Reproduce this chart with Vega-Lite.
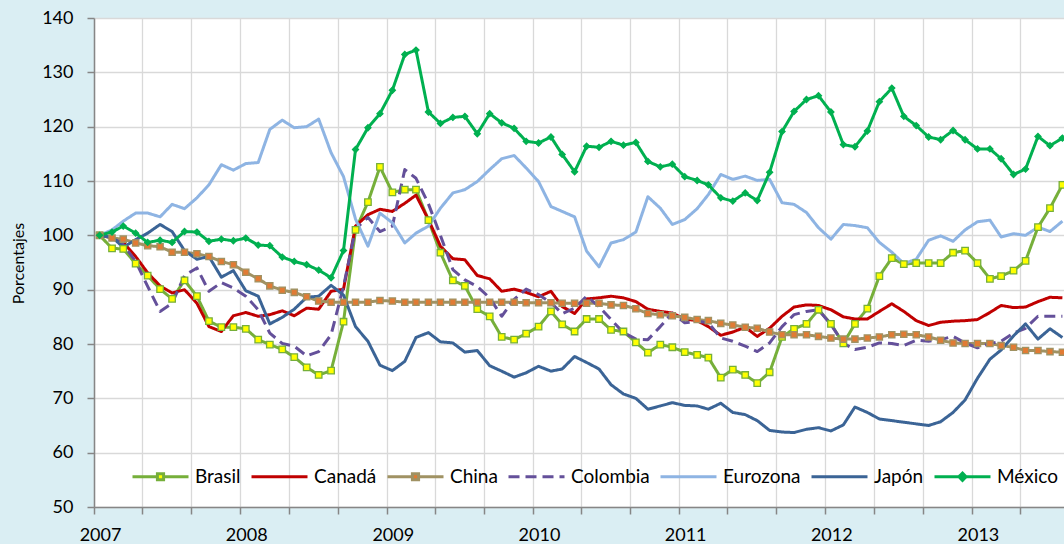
{
  "$schema": "https://vega.github.io/schema/vega-lite/v6.json",
  "width": 970,
  "height": 489,
  "autosize": {"type": "none"},
  "padding": {"left": 94, "top": 18, "right": 0, "bottom": 37},
  "background": "#DAEEF3",
  "config": {
    "font": "Lato",
    "view": {"fill": "white", "stroke": null},
    "axis": {
      "labelFont": "Lato",
      "labelColor": "#000000",
      "domainColor": "#868686",
      "domainWidth": 1.5,
      "tickColor": "#868686",
      "tickWidth": 1.5,
      "gridColor": "#D9D9D9",
      "gridWidth": 1.3
    }
  },
  "data": {
    "values": [
      {"fecha": "2007-01-15", "Brasil": 100, "Canadá": 100, "China": 100, "Colombia": 100, "Eurozona": 100, "Japón": 100, "México": 100},
      {"fecha": "2007-02-15", "Brasil": 97.6, "Canadá": 99.6, "China": 99.5, "Colombia": 99.6, "Eurozona": 101.0, "Japón": 99.7, "México": 100.6},
      {"fecha": "2007-03-15", "Brasil": 97.5, "Canadá": 98.7, "China": 99.3, "Colombia": 98.3, "Eurozona": 102.6, "Japón": 97.8, "México": 101.7},
      {"fecha": "2007-04-15", "Brasil": 94.8, "Canadá": 96.1, "China": 98.6, "Colombia": 95.2, "Eurozona": 104.1, "Japón": 99.2, "México": 100.4},
      {"fecha": "2007-05-15", "Brasil": 92.6, "Canadá": 93.1, "China": 98.1, "Colombia": 90.6, "Eurozona": 104.1, "Japón": 100.4, "México": 98.7},
      {"fecha": "2007-06-15", "Brasil": 90.1, "Canadá": 90.7, "China": 97.9, "Colombia": 86.0, "Eurozona": 103.4, "Japón": 102.0, "México": 99.1},
      {"fecha": "2007-07-15", "Brasil": 88.3, "Canadá": 89.4, "China": 96.9, "Colombia": 87.5, "Eurozona": 105.7, "Japón": 100.7, "México": 98.7},
      {"fecha": "2007-08-15", "Brasil": 91.7, "Canadá": 90.0, "China": 96.9, "Colombia": 92.6, "Eurozona": 104.9, "Japón": 97.2, "México": 100.7},
      {"fecha": "2007-09-15", "Brasil": 88.8, "Canadá": 87.5, "China": 96.6, "Colombia": 94.0, "Eurozona": 106.9, "Japón": 95.6, "México": 100.6},
      {"fecha": "2007-10-15", "Brasil": 84.2, "Canadá": 83.2, "China": 96.1, "Colombia": 89.7, "Eurozona": 109.3, "Japón": 96.1, "México": 98.9},
      {"fecha": "2007-11-15", "Brasil": 83.1, "Canadá": 82.3, "China": 95.2, "Colombia": 91.3, "Eurozona": 113.0, "Japón": 92.3, "México": 99.3},
      {"fecha": "2007-12-15", "Brasil": 83.1, "Canadá": 85.2, "China": 94.6, "Colombia": 90.3, "Eurozona": 112.0, "Japón": 93.5, "México": 99.0},
      {"fecha": "2008-01-15", "Brasil": 82.8, "Canadá": 85.8, "China": 93.2, "Colombia": 88.8, "Eurozona": 113.2, "Japón": 89.8, "México": 99.5},
      {"fecha": "2008-02-15", "Brasil": 80.8, "Canadá": 85.1, "China": 92.0, "Colombia": 86.3, "Eurozona": 113.4, "Japón": 88.8, "México": 98.2},
      {"fecha": "2008-03-15", "Brasil": 79.9, "Canadá": 85.4, "China": 90.7, "Colombia": 82.0, "Eurozona": 119.5, "Japón": 83.7, "México": 98.1},
      {"fecha": "2008-04-15", "Brasil": 79.0, "Canadá": 86.1, "China": 89.9, "Colombia": 80.1, "Eurozona": 121.2, "Japón": 84.9, "México": 96.0},
      {"fecha": "2008-05-15", "Brasil": 77.6, "Canadá": 85.2, "China": 89.5, "Colombia": 79.6, "Eurozona": 119.8, "Japón": 86.4, "México": 95.2},
      {"fecha": "2008-06-15", "Brasil": 75.7, "Canadá": 86.6, "China": 88.7, "Colombia": 77.8, "Eurozona": 120.0, "Japón": 88.6, "México": 94.6},
      {"fecha": "2008-07-15", "Brasil": 74.3, "Canadá": 86.4, "China": 87.9, "Colombia": 78.6, "Eurozona": 121.4, "Japón": 88.8, "México": 93.6},
      {"fecha": "2008-08-15", "Brasil": 75.1, "Canadá": 89.7, "China": 87.7, "Colombia": 81.7, "Eurozona": 115.2, "Japón": 90.8, "México": 92.2},
      {"fecha": "2008-09-15", "Brasil": 84.1, "Canadá": 90.1, "China": 87.7, "Colombia": 90.6, "Eurozona": 110.8, "Japón": 89.0, "México": 97.2},
      {"fecha": "2008-10-15", "Brasil": 101.0, "Canadá": 101.7, "China": 87.7, "Colombia": 101.2, "Eurozona": 103.0, "Japón": 83.2, "México": 115.8},
      {"fecha": "2008-11-15", "Brasil": 106.1, "Canadá": 103.8, "China": 87.7, "Colombia": 103.3, "Eurozona": 98.0, "Japón": 80.5, "México": 119.8},
      {"fecha": "2008-12-15", "Brasil": 112.6, "Canadá": 104.8, "China": 88.0, "Colombia": 100.7, "Eurozona": 104.1, "Japón": 76.1, "México": 122.4},
      {"fecha": "2009-01-15", "Brasil": 107.9, "Canadá": 104.4, "China": 87.9, "Colombia": 101.7, "Eurozona": 102.3, "Japón": 75.1, "México": 126.7},
      {"fecha": "2009-02-15", "Brasil": 108.4, "Canadá": 105.9, "China": 87.7, "Colombia": 112.1, "Eurozona": 98.6, "Japón": 76.8, "México": 133.3},
      {"fecha": "2009-03-15", "Brasil": 108.4, "Canadá": 107.4, "China": 87.7, "Colombia": 110.5, "Eurozona": 100.4, "Japón": 81.2, "México": 134.1},
      {"fecha": "2009-04-15", "Brasil": 102.8, "Canadá": 102.9, "China": 87.7, "Colombia": 105.8, "Eurozona": 101.7, "Japón": 82.1, "México": 122.7},
      {"fecha": "2009-05-15", "Brasil": 96.8, "Canadá": 98.0, "China": 87.7, "Colombia": 100.0, "Eurozona": 105.0, "Japón": 80.4, "México": 120.6},
      {"fecha": "2009-06-15", "Brasil": 91.7, "Canadá": 95.7, "China": 87.7, "Colombia": 93.7, "Eurozona": 107.8, "Japón": 80.2, "México": 121.7},
      {"fecha": "2009-07-15", "Brasil": 90.7, "Canadá": 95.5, "China": 87.7, "Colombia": 91.8, "Eurozona": 108.4, "Japón": 78.5, "México": 121.9},
      {"fecha": "2009-08-15", "Brasil": 86.4, "Canadá": 92.6, "China": 87.7, "Colombia": 90.6, "Eurozona": 109.9, "Japón": 78.8, "México": 118.7},
      {"fecha": "2009-09-15", "Brasil": 85.1, "Canadá": 92.0, "China": 87.7, "Colombia": 88.5, "Eurozona": 112.1, "Japón": 76.0, "México": 122.4},
      {"fecha": "2009-10-15", "Brasil": 81.3, "Canadá": 89.7, "China": 87.7, "Colombia": 85.1, "Eurozona": 114.1, "Japón": 75.0, "México": 120.7},
      {"fecha": "2009-11-15", "Brasil": 80.8, "Canadá": 90.1, "China": 87.7, "Colombia": 88.2, "Eurozona": 114.7, "Japón": 73.9, "México": 119.7},
      {"fecha": "2009-12-15", "Brasil": 81.9, "Canadá": 89.5, "China": 87.6, "Colombia": 90.1, "Eurozona": 112.4, "Japón": 74.7, "México": 117.3},
      {"fecha": "2010-01-15", "Brasil": 83.2, "Canadá": 88.7, "China": 87.6, "Colombia": 89.1, "Eurozona": 109.9, "Japón": 75.9, "México": 117.0},
      {"fecha": "2010-02-15", "Brasil": 86.0, "Canadá": 89.7, "China": 87.6, "Colombia": 87.6, "Eurozona": 105.3, "Japón": 75.0, "México": 118.1},
      {"fecha": "2010-03-15", "Brasil": 83.6, "Canadá": 86.9, "China": 87.5, "Colombia": 85.6, "Eurozona": 104.4, "Japón": 75.4, "México": 114.9},
      {"fecha": "2010-04-15", "Brasil": 82.3, "Canadá": 85.6, "China": 87.5, "Colombia": 86.6, "Eurozona": 103.4, "Japón": 77.7, "México": 111.7},
      {"fecha": "2010-05-15", "Brasil": 84.6, "Canadá": 88.3, "China": 87.5, "Colombia": 88.8, "Eurozona": 97.1, "Japón": 76.6, "México": 116.4},
      {"fecha": "2010-06-15", "Brasil": 84.6, "Canadá": 88.5, "China": 87.5, "Colombia": 86.9, "Eurozona": 94.2, "Japón": 75.4, "México": 116.2},
      {"fecha": "2010-07-15", "Brasil": 82.6, "Canadá": 88.8, "China": 87.2, "Colombia": 84.5, "Eurozona": 98.6, "Japón": 72.5, "México": 117.3},
      {"fecha": "2010-08-15", "Brasil": 82.3, "Canadá": 88.5, "China": 87.1, "Colombia": 82.1, "Eurozona": 99.2, "Japón": 70.8, "México": 116.6},
      {"fecha": "2010-09-15", "Brasil": 80.3, "Canadá": 87.8, "China": 86.5, "Colombia": 80.9, "Eurozona": 100.6, "Japón": 70.0, "México": 117.1},
      {"fecha": "2010-10-15", "Brasil": 78.4, "Canadá": 86.4, "China": 85.6, "Colombia": 80.8, "Eurozona": 107.1, "Japón": 68.0, "México": 113.6},
      {"fecha": "2010-11-15", "Brasil": 79.9, "Canadá": 86.0, "China": 85.4, "Colombia": 83.2, "Eurozona": 105.0, "Japón": 68.6, "México": 112.6},
      {"fecha": "2010-12-15", "Brasil": 79.4, "Canadá": 85.7, "China": 85.2, "Colombia": 85.7, "Eurozona": 102.0, "Japón": 69.2, "México": 113.1},
      {"fecha": "2011-01-15", "Brasil": 78.5, "Canadá": 84.6, "China": 84.9, "Colombia": 83.9, "Eurozona": 102.9, "Japón": 68.7, "México": 110.8},
      {"fecha": "2011-02-15", "Brasil": 78.0, "Canadá": 84.3, "China": 84.5, "Colombia": 84.2, "Eurozona": 104.9, "Japón": 68.6, "México": 110.1},
      {"fecha": "2011-03-15", "Brasil": 77.5, "Canadá": 83.2, "China": 84.3, "Colombia": 83.9, "Eurozona": 107.5, "Japón": 68.0, "México": 109.3},
      {"fecha": "2011-04-15", "Brasil": 73.8, "Canadá": 81.6, "China": 83.8, "Colombia": 81.1, "Eurozona": 111.2, "Japón": 69.1, "México": 106.9},
      {"fecha": "2011-05-15", "Brasil": 75.3, "Canadá": 82.2, "China": 83.5, "Colombia": 80.5, "Eurozona": 110.3, "Japón": 67.4, "México": 106.3},
      {"fecha": "2011-06-15", "Brasil": 74.3, "Canadá": 83.1, "China": 83.1, "Colombia": 79.6, "Eurozona": 110.9, "Japón": 67.0, "México": 107.8},
      {"fecha": "2011-07-15", "Brasil": 72.8, "Canadá": 81.4, "China": 82.9, "Colombia": 78.6, "Eurozona": 110.1, "Japón": 65.9, "México": 106.4},
      {"fecha": "2011-08-15", "Brasil": 74.8, "Canadá": 82.9, "China": 82.2, "Colombia": 80.2, "Eurozona": 110.3, "Japón": 64.1, "México": 111.6},
      {"fecha": "2011-09-15", "Brasil": 81.3, "Canadá": 85.1, "China": 81.7, "Colombia": 83.2, "Eurozona": 106.0, "Japón": 63.8, "México": 119.1},
      {"fecha": "2011-10-15", "Brasil": 82.8, "Canadá": 86.8, "China": 81.7, "Colombia": 85.4, "Eurozona": 105.7, "Japón": 63.7, "México": 122.8},
      {"fecha": "2011-11-15", "Brasil": 83.7, "Canadá": 87.2, "China": 81.7, "Colombia": 86.0, "Eurozona": 104.2, "Japón": 64.3, "México": 125.0},
      {"fecha": "2011-12-15", "Brasil": 86.3, "Canadá": 87.1, "China": 81.4, "Colombia": 86.3, "Eurozona": 101.4, "Japón": 64.6, "México": 125.7},
      {"fecha": "2012-01-15", "Brasil": 83.7, "Canadá": 86.3, "China": 81.1, "Colombia": 83.6, "Eurozona": 99.3, "Japón": 64.0, "México": 122.7},
      {"fecha": "2012-02-15", "Brasil": 80.1, "Canadá": 85.0, "China": 80.9, "Colombia": 80.1, "Eurozona": 102.0, "Japón": 65.1, "México": 116.7},
      {"fecha": "2012-03-15", "Brasil": 83.7, "Canadá": 84.6, "China": 80.9, "Colombia": 79.0, "Eurozona": 101.8, "Japón": 68.4, "México": 116.3},
      {"fecha": "2012-04-15", "Brasil": 86.5, "Canadá": 84.6, "China": 81.1, "Colombia": 79.4, "Eurozona": 101.4, "Japón": 67.4, "México": 119.2},
      {"fecha": "2012-05-15", "Brasil": 92.5, "Canadá": 86.0, "China": 81.3, "Colombia": 80.2, "Eurozona": 98.7, "Japón": 66.2, "México": 124.6},
      {"fecha": "2012-06-15", "Brasil": 95.8, "Canadá": 87.4, "China": 81.7, "Colombia": 80.1, "Eurozona": 96.9, "Japón": 65.9, "México": 127.1},
      {"fecha": "2012-07-15", "Brasil": 94.7, "Canadá": 86.0, "China": 81.8, "Colombia": 79.7, "Eurozona": 94.8, "Japón": 65.6, "México": 121.9},
      {"fecha": "2012-08-15", "Brasil": 94.9, "Canadá": 84.3, "China": 81.7, "Colombia": 80.7, "Eurozona": 95.6, "Japón": 65.3, "México": 120.2},
      {"fecha": "2012-09-15", "Brasil": 94.9, "Canadá": 83.4, "China": 81.3, "Colombia": 80.5, "Eurozona": 99.1, "Japón": 65.0, "México": 118.1},
      {"fecha": "2012-10-15", "Brasil": 94.9, "Canadá": 84.0, "China": 80.7, "Colombia": 80.8, "Eurozona": 99.9, "Japón": 65.7, "México": 117.6},
      {"fecha": "2012-11-15", "Brasil": 96.8, "Canadá": 84.2, "China": 80.2, "Colombia": 81.4, "Eurozona": 98.9, "Japón": 67.4, "México": 119.3},
      {"fecha": "2012-12-15", "Brasil": 97.2, "Canadá": 84.3, "China": 80.1, "Colombia": 80.2, "Eurozona": 101.0, "Japón": 69.7, "México": 117.6},
      {"fecha": "2013-01-15", "Brasil": 94.9, "Canadá": 84.5, "China": 80.1, "Colombia": 79.3, "Eurozona": 102.5, "Japón": 73.7, "México": 115.9},
      {"fecha": "2013-02-15", "Brasil": 92.0, "Canadá": 85.8, "China": 80.1, "Colombia": 80.1, "Eurozona": 102.8, "Japón": 77.2, "México": 115.9},
      {"fecha": "2013-03-15", "Brasil": 92.5, "Canadá": 87.1, "China": 79.7, "Colombia": 80.5, "Eurozona": 99.7, "Japón": 78.9, "México": 114.1},
      {"fecha": "2013-04-15", "Brasil": 93.5, "Canadá": 86.7, "China": 79.4, "Colombia": 82.0, "Eurozona": 100.3, "Japón": 81.5, "México": 111.2},
      {"fecha": "2013-05-15", "Brasil": 95.3, "Canadá": 86.8, "China": 78.8, "Colombia": 82.9, "Eurozona": 100.0, "Japón": 83.7, "México": 112.2},
      {"fecha": "2013-06-15", "Brasil": 101.5, "Canadá": 87.8, "China": 78.8, "Colombia": 85.1, "Eurozona": 101.5, "Japón": 80.9, "México": 118.2},
      {"fecha": "2013-07-15", "Brasil": 105.0, "Canadá": 88.6, "China": 78.6, "Colombia": 85.1, "Eurozona": 100.7, "Japón": 82.8, "México": 116.5},
      {"fecha": "2013-08-15", "Brasil": 109.3, "Canadá": 88.5, "China": 78.5, "Colombia": 85.1, "Eurozona": 102.6, "Japón": 81.2, "México": 117.9}
    ]
  },
  "transform": [
    {"fold": ["Brasil", "Canadá", "China", "Colombia", "Eurozona", "Japón", "México"], "as": ["pais", "valor"]}
  ],
  "encoding": {
    "x": {
      "field": "fecha",
      "type": "temporal",
      "scale": {
        "type": "utc",
        "domain": [{"year": 2007, "month": 1, "date": 1, "utc": true}, {"year": 2013, "month": 8, "date": 19, "utc": true}]
      },
      "axis": {
        "title": null,
        "values": [
          {"year": 2007, "month": 1, "date": 1, "utc": true}, {"year": 2007, "month": 5, "date": 1, "utc": true}, {"year": 2007, "month": 9, "date": 1, "utc": true},
          {"year": 2008, "month": 1, "date": 1, "utc": true}, {"year": 2008, "month": 5, "date": 1, "utc": true}, {"year": 2008, "month": 9, "date": 1, "utc": true},
          {"year": 2009, "month": 1, "date": 1, "utc": true}, {"year": 2009, "month": 5, "date": 1, "utc": true}, {"year": 2009, "month": 9, "date": 1, "utc": true},
          {"year": 2010, "month": 1, "date": 1, "utc": true}, {"year": 2010, "month": 5, "date": 1, "utc": true}, {"year": 2010, "month": 9, "date": 1, "utc": true},
          {"year": 2011, "month": 1, "date": 1, "utc": true}, {"year": 2011, "month": 5, "date": 1, "utc": true}, {"year": 2011, "month": 9, "date": 1, "utc": true},
          {"year": 2012, "month": 1, "date": 1, "utc": true}, {"year": 2012, "month": 5, "date": 1, "utc": true}, {"year": 2012, "month": 9, "date": 1, "utc": true},
          {"year": 2013, "month": 1, "date": 1, "utc": true}, {"year": 2013, "month": 5, "date": 1, "utc": true}
        ],
        "labelExpr": "utcmonth(datum.value) == 0 ? '' + utcyear(datum.value) : ''",
        "labelOffset": 6,
        "labelFontSize": 18,
        "labelOverlap": false,
        "labelFlush": false,
        "labelBound": false,
        "labelPadding": 12,
        "tickSize": 7,
        "grid": true
      }
    },
    "y": {
      "field": "valor",
      "type": "quantitative",
      "scale": {"domain": [50, 140], "nice": false, "zero": false},
      "axis": {
        "title": "Porcentajes",
        "titleFont": "Lato",
        "titleFontSize": 16,
        "titleFontWeight": "normal",
        "titleColor": "#000000",
        "titleAngle": -90,
        "titleX": -76,
        "titleY": 245,
        "titleAlign": "center",
        "titleBaseline": "middle",
        "values": [50, 60, 70, 80, 90, 100, 110, 120, 130, 140],
        "labelFontSize": 18,
        "labelPadding": 14,
        "tickSize": 7,
        "grid": true
      }
    }
  },
  "layer": [
    {
      "mark": {"type": "line", "strokeWidth": 3, "strokeJoin": "round", "clip": true},
      "encoding": {
        "color": {
          "field": "pais",
          "type": "nominal",
          "scale": {
            "domain": ["Brasil", "Canadá", "China", "Colombia", "Eurozona", "Japón", "México"],
            "range": ["#76AF3A", "#C00000", "#A09263", "#64509A", "#8EB4E3", "#3B6496", "#00B050"]
          },
          "legend": {
            "title": null,
            "orient": "none",
            "legendX": 37,
            "legendY": 429,
            "direction": "horizontal",
            "columns": 7,
            "padding": 0,
            "symbolSize": 3136,
            "symbolStrokeWidth": 3,
            "labelFont": "Lato",
            "labelFontSize": 19,
            "labelColor": "#000000",
            "labelOffset": 5,
            "columnPadding": 4,
            "encode": {
              "symbols": {
                "update": {
                  "shape": {"signal": "(datum.value == 'Brasil' || datum.value == 'China') ? 'M-1,0H-0.11M0.11,0H1M-0.11,-0.11H0.11V0.11H-0.11Z' : (datum.value == 'México' ? 'M-1,0H-0.13M0.13,0H1M0,-0.13L0.13,0L0,0.13L-0.13,0Z' : 'M-1,0H1')"},
                  "fill": {"signal": "datum.value == 'Brasil' ? '#FFFF00' : (datum.value == 'China' ? '#E17B34' : (datum.value == 'México' ? '#00B050' : 'transparent'))"},
                  "strokeDash": {"signal": "datum.value == 'Colombia' ? [10, 6] : [1, 0]"},
                  "opacity": {"value": 1}
                }
              }
            }
          }
        },
        "strokeDash": {
          "field": "pais",
          "type": "nominal",
          "scale": {
            "domain": ["Brasil", "Canadá", "China", "Colombia", "Eurozona", "Japón", "México"],
            "range": [[1, 0], [1, 0], [1, 0], [11, 6], [1, 0], [1, 0], [1, 0]]
          },
          "legend": null
        }
      }
    },
    {
      "transform": [{"filter": {"field": "pais", "oneOf": ["Brasil", "China", "México"]}}],
      "mark": {"type": "point", "filled": true, "opacity": 1, "strokeWidth": 1.3, "clip": true},
      "encoding": {
        "shape": {
          "field": "pais",
          "type": "nominal",
          "scale": {"domain": ["Brasil", "China", "México"], "range": ["square", "square", "diamond"]},
          "legend": null
        },
        "fill": {
          "field": "pais",
          "type": "nominal",
          "scale": {"domain": ["Brasil", "China", "México"], "range": ["#FFFF00", "#E17B34", "#00B050"]},
          "legend": null
        },
        "stroke": {
          "field": "pais",
          "type": "nominal",
          "scale": {"domain": ["Brasil", "China", "México"], "range": ["#76AF3A", "#A09263", "#00B050"]},
          "legend": null
        },
        "size": {
          "field": "pais",
          "type": "nominal",
          "scale": {"domain": ["Brasil", "China", "México"], "range": [42, 36, 56]},
          "legend": null
        }
      }
    }
  ]
}
